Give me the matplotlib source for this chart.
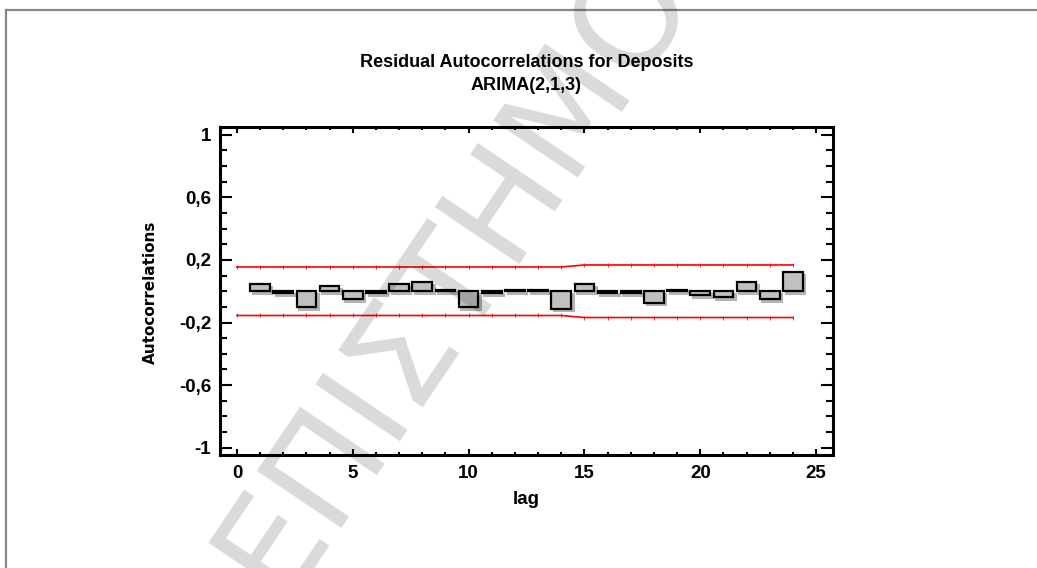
import numpy as np
import matplotlib
matplotlib.use('Agg')
import matplotlib.pyplot as plt
from matplotlib.ticker import FixedLocator, MultipleLocator, FuncFormatter
from matplotlib.transforms import ScaledTranslation
from matplotlib.lines import Line2D

# residual autocorrelations, lags 1..24
lags = np.arange(1, 25)
acf = [0.045, -0.012, -0.102, 0.032, -0.052, -0.012, 0.045, 0.057, 0.008, -0.102,
       -0.012, 0.01, 0.01, -0.113, 0.045, -0.012, -0.012, -0.074, 0.01, -0.025,
       -0.038, 0.057, -0.05, 0.12]

# 95% limits, lags 0..24
lim_lags = np.arange(0, 25)
upper = [0.155] * 15 + [0.168] * 10
lower = [-0.155] * 15 + [-0.168] * 10

title = "Residual Autocorrelations for Deposits\nARIMA(2,1,3)"
xlab = "lag"
ylab = "Autocorrelations"
watermark = "ΕΠΙΣΤΗΜΟ"

plt.rcParams['font.family'] = ['Liberation Sans', 'DejaVu Sans']
plt.rcParams['font.weight'] = 'bold'

fig = plt.figure(figsize=(10.37, 5.68), dpi=100)
ax = fig.add_axes([0.2122, 0.1981, 0.5911, 0.5783])

# drop shadow of the bars
shadow = ax.bar(lags, acf, width=0.85, color='#b4b4b4', edgecolor='#b4b4b4', linewidth=1.5, zorder=2)
off = ScaledTranslation(2.5 / 100, -2.5 / 100, fig.dpi_scale_trans)
for p in shadow:
    p.set_transform(ax.transData + off)
ax.bar(lags, acf, width=0.85, color='#c0c0c0', edgecolor='black', linewidth=1.6, zorder=3)

ax.plot(lim_lags, upper, color='red', lw=1.2, marker='|', ms=3, mew=0.6, zorder=4)
ax.plot(lim_lags, lower, color='red', lw=1.2, marker='|', ms=3, mew=0.6, zorder=4)

ax.set_xlim(-0.73, 25.73)
ax.set_ylim(-1.05, 1.05)

ax.xaxis.set_major_locator(MultipleLocator(5))
ax.xaxis.set_minor_locator(MultipleLocator(1))
ax.yaxis.set_major_locator(FixedLocator([-1, -0.6, -0.2, 0.2, 0.6, 1]))
ax.yaxis.set_minor_locator(FixedLocator(np.round(np.arange(-0.9, 1.0, 0.1), 2)))
ax.yaxis.set_major_formatter(FuncFormatter(lambda v, p: f'{v:g}'.replace('.', ',')))

ax.tick_params(axis='both', which='both', direction='in', top=True, right=True, width=1.5)
ax.tick_params(axis='x', which='major', length=4.5, pad=7, labelsize=13.5)
ax.tick_params(axis='x', which='minor', length=2.2)
ax.tick_params(axis='y', which='major', length=8.6, pad=6.5, labelsize=13.5)
ax.tick_params(axis='y', which='minor', length=4.7)
for s in ax.spines.values():
    s.set_linewidth(2.2)

ax.set_xlabel(xlab, fontsize=13.5, fontweight='bold', labelpad=6)
fig.text(0.1455, 0.485, ylab, rotation=90, ha='center', va='center',
         fontsize=11, fontweight='bold', family='DejaVu Sans')
fig.text(0.5077, 0.905, title, ha='center', va='top', fontsize=13,
         fontweight='bold', linespacing=1.5)

# outer frame
fig.add_artist(Line2D([6 / 1037, 1], [1 - 10 / 568, 1 - 10 / 568], color='#888888', lw=1.6))
fig.add_artist(Line2D([6 / 1037, 6 / 1037], [0, 1 - 10 / 568], color='#888888', lw=1.6))

# watermark
fig.text(455 / 1037, 1 - 272 / 568, watermark, rotation=56, ha='center', va='center',
         fontsize=100, fontweight='normal', family='DejaVu Sans', color='black',
         alpha=0.15, zorder=10)

fig.savefig('out.png', dpi=100)
